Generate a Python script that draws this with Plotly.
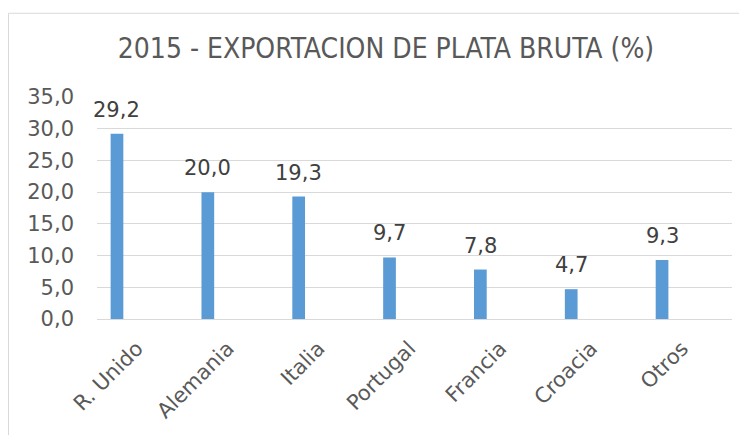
import plotly.graph_objects as go

categories = ["R. Unido", "Alemania", "Italia", "Portugal", "Francia", "Croacia", "Otros"]
values = [29.2, 20.0, 19.3, 9.7, 7.8, 4.7, 9.3]
title_text = "2015 - EXPORTACION DE PLATA BRUTA (%)"

# page body has an 8px margin, so the figure is drawn 8px in and 8px down
OFF = 8
W, H = 747 - OFF, 435 - OFF
L, R, T, B = 97 - OFF, 15, 97 - OFF, 435 - 321
FONT = "DejaVu Sans"

fig = go.Figure()
fig.add_trace(go.Bar(
    x=list(range(len(categories))), y=values,
    marker=dict(color="#5B9BD5", line=dict(width=0)),
    width=0.14, hoverinfo="skip",
))

for i, v in enumerate(values):
    fig.add_annotation(
        x=i, y=v, xref="x", yref="y",
        text=f"{v:.1f}".replace(".", ","),
        showarrow=False, yanchor="bottom", yshift=10,
        font=dict(family=FONT, size=21, color="#404040"),
    )

pw = W - L - R
ph = H - T - B
def px_x(p):
    return (p - OFF - L) / pw
def px_y(p):
    return 1 - (p - OFF - T) / ph

fig.add_shape(type="line", xref="paper", yref="paper",
              x0=px_x(8.5), x1=px_x(800), y0=px_y(12.5), y1=px_y(12.5),
              line=dict(color="#D9D9D9", width=1))
fig.add_shape(type="line", xref="paper", yref="paper",
              x0=px_x(8.5), x1=px_x(8.5), y0=px_y(12.5), y1=px_y(500),
              line=dict(color="#D9D9D9", width=1))

fig.update_layout(
    width=W, height=H,
    margin=dict(l=L, r=R, t=T, b=B, pad=0),
    paper_bgcolor="white", plot_bgcolor="white",
    separators=",.",
    showlegend=False,
    title=dict(text=title_text, x=(386 - OFF) / W, xanchor="center",
               y=1 - (48 - OFF) / H, yanchor="middle", xref="container", yref="container",
               font=dict(family="DejaVu Sans Condensed", size=28, color="#595959")),
    xaxis=dict(
        tickmode="array", tickvals=list(range(len(categories))), ticktext=categories,
        range=[-0.22, 6.77], tickangle=-45, showgrid=False, zeroline=False,
        showline=False, ticks="", ticklabelshift=20, ticklabelstandoff=12,
        tickfont=dict(family=FONT, size=21, color="#595959"),
    ),
    yaxis=dict(
        range=[0, 35], dtick=5, tickformat=".1f", showgrid=True,
        gridcolor="#D9D9D9", gridwidth=1, zeroline=True, zerolinecolor="#D9D9D9",
        zerolinewidth=1, showline=False, ticks="", ticklabelstandoff=22,
        tickfont=dict(family=FONT, size=21, color="#595959"),
    ),
)

fig.write_html("out.html")
